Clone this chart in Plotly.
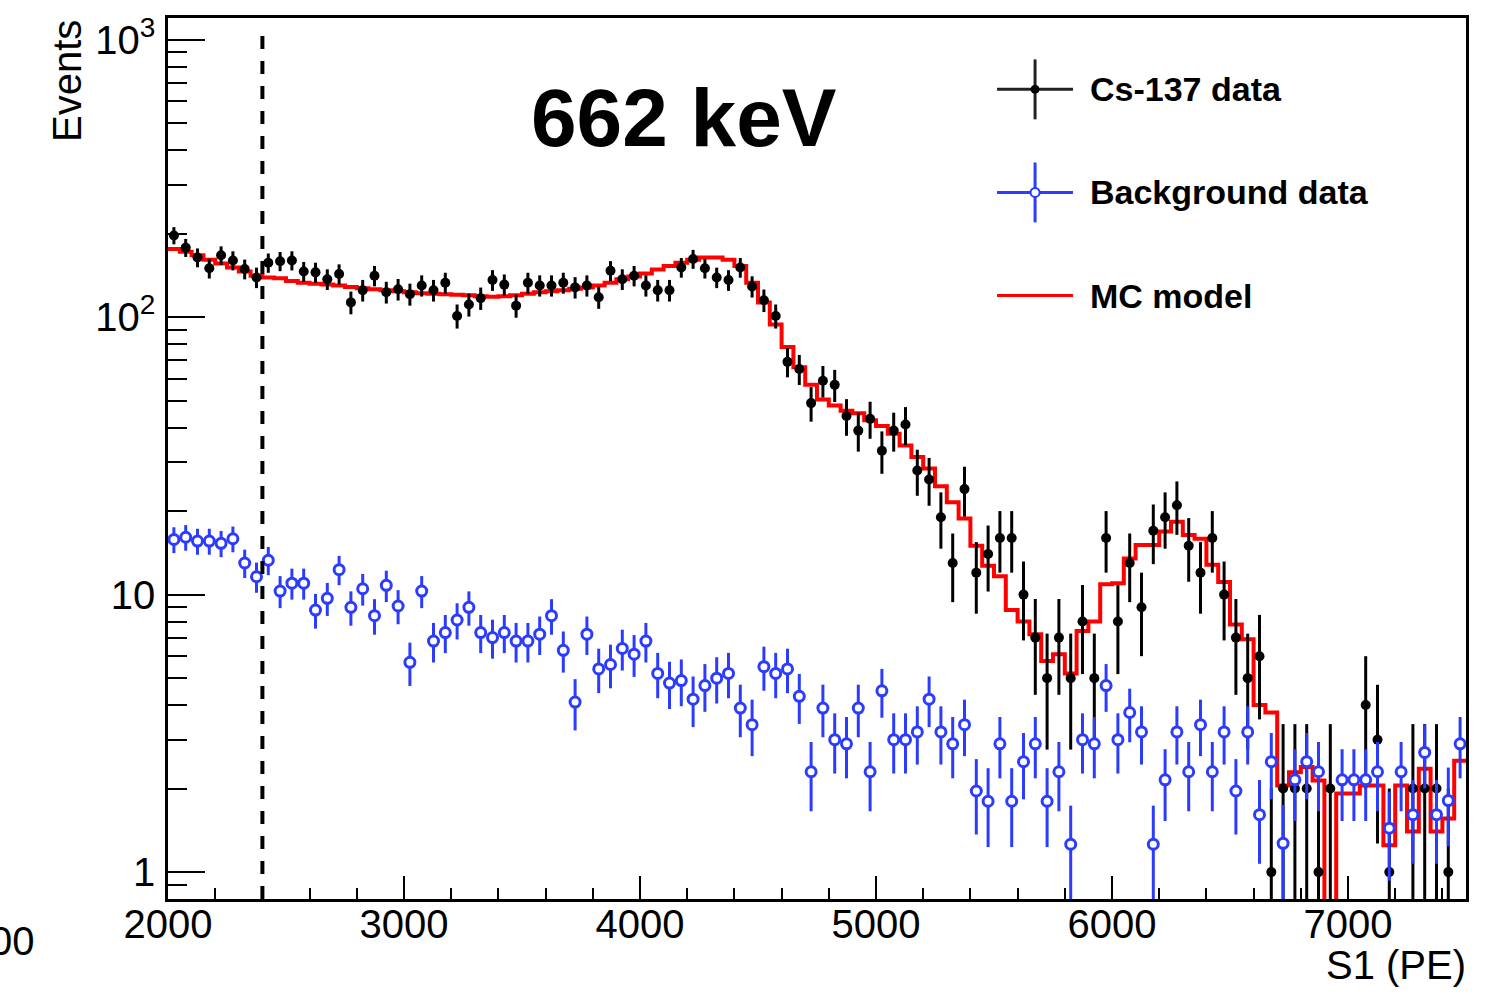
import numpy as np
import plotly.graph_objects as go

# ---------------- data ----------------
bin_start = 2000
bin_width = 50
n_bins = 110

cs137_counts = [197, 178, 164, 150, 167, 160, 149, 139, 157, 159,
                160, 146, 145, 137, 143, 113, 125, 141, 123, 126,
                121, 130, 125, 133, 101, 111, 117, 136, 131, 110,
                133, 130, 130, 133, 128, 130, 118, 147, 137, 141,
                130, 125, 125, 151, 162, 150, 139, 136, 151, 129,
                115, 101, 69, 65, 49, 59, 57, 44, 39, 43,
                33, 39, 41, 28, 26, 19, 13, 24, 12, 14,
                16, 16, 10, 7, 5, 7, 5, 8, 5, 16,
                8, 13, 9, 17, 19, 21, 15, 12, 16, 10,
                7, 5, 6, 1, 2, 2, 2, 1, 2, 0,
                0, 4, 3, 1, 0, 2, 2, 2, 1, 0]

background = [15.8, 16.1, 15.6, 15.6, 15.3, 15.9, 13.0, 11.6, 13.3, 10.3,
              11.0, 11.0, 8.8, 9.7, 12.3, 9.0, 10.5, 8.4, 10.8, 9.1,
              5.7, 10.3, 6.8, 7.3, 8.1, 9.0, 7.3, 7.0, 7.3, 6.8,
              6.8, 7.2, 8.4, 6.3, 4.1, 7.2, 5.4, 5.6, 6.4, 6.1,
              6.8, 5.2, 4.8, 4.9, 4.2, 4.7, 5.0, 5.2, 3.9, 3.4,
              5.5, 5.2, 5.4, 4.3, 2.3, 3.9, 3.0, 2.9, 3.9, 2.3,
              4.5, 3.0, 3.0, 3.2, 4.2, 3.2, 2.9, 3.4, 1.96, 1.8,
              2.9, 1.8, 2.5, 2.9, 1.8, 2.3, 1.26, 3.0, 2.9, 4.7,
              3.0, 3.76, 3.2, 1.26, 2.15, 3.2, 2.3, 3.4, 2.3, 3.2,
              1.96, 3.2, 1.61, 2.5, 1.27, 2.15, 2.5, 2.3, None, 2.15,
              2.15, 2.15, 2.3, 1.44, 2.3, 1.61, 2.7, 1.61, 1.81, 2.9]
bkg_scale = 0.18  # per-event weight of the background sample

mc_model = [176, 172, 167, 161, 156, 151, 146, 141, 139, 138,
            135, 133, 132, 131, 130, 128.5, 127, 126, 125, 124,
            123, 122, 121.5, 121, 120.5, 120, 119, 118.5, 119, 120,
            121.5, 123, 124, 125, 126.5, 128, 130, 133, 137, 140,
            143.6, 148.5, 153, 157, 161, 164, 164, 161, 153, 133,
            113, 94, 78, 66, 57, 50.5, 48, 46, 45, 42.5,
            40.5, 38, 34.5, 31.3, 28.5, 24.6, 21.5, 18.8, 15.0, 12.7,
            11.65, 8.8, 8.0, 7.2, 5.76, 6.1, 5.2, 7.4, 8.0, 10.9,
            11.0, 13.5, 15.1, 15.1, 16.9, 18.3, 16.4, 15.9, 12.8, 11.1,
            7.8, 6.9, 4.0, 3.76, 2.05, 2.29, 2.39, 2.14, 0, 1.92,
            1.92, 2.05, 2.05, 1.25, 2.05, 1.4, 2.36, 1.4, 1.56, 2.52]

x_tick_vals = [2000, 3000, 4000, 5000, 6000, 7000]
x_tick_text = ["2000", "3000", "4000", "5000", "6000", "7000"]
y_tick_vals = [1, 10, 100, 1000]
y_tick_text = ["1", "10", "10<sup>2</sup>", "10<sup>3</sup>"]
threshold = 2400

# ---------------- derived ----------------
centers = bin_start + bin_width * (np.arange(n_bins) + 0.5)
edges = bin_start + bin_width * np.arange(n_bins + 1)

cs = np.array(cs137_counts, dtype=float)
cs_y = np.where(cs > 0, cs, np.nan)
cs_err = np.sqrt(cs)

bk = np.array([np.nan if v is None else v for v in background], dtype=float)
bk_err = np.sqrt(bk * bkg_scale)

mc = np.array(mc_model, dtype=float)
mc_y = np.where(mc > 0, mc, 1e-3)
mc_step = np.append(mc_y, mc_y[-1])

FONT = "Liberation Sans, Arial, Helvetica, sans-serif"
BLUE = "#2b3cff"

fig = go.Figure()

fig.add_trace(go.Scatter(
    x=edges, y=mc_step, mode="lines", line=dict(color="#ff0000", width=4, shape="hv"),
    name="MC model", showlegend=False, hoverinfo="skip"))

fig.add_trace(go.Scatter(
    x=centers, y=cs_y, mode="markers", name="Cs-137 data",
    marker=dict(color="black", size=10, symbol="circle"),
    error_y=dict(type="data", array=cs_err, color="black", thickness=3, width=0),
    showlegend=False))

fig.add_trace(go.Scatter(
    x=centers, y=bk, mode="markers", name="Background data",
    marker=dict(color="white", size=10, symbol="circle",
                line=dict(color=BLUE, width=3)),
    error_y=dict(type="data", array=bk_err, color=BLUE, thickness=3, width=0),
    showlegend=False))

# threshold dashed line
fig.add_shape(type="line", xref="x", yref="paper", x0=threshold, x1=threshold,
              y0=0, y1=0.9887, line=dict(color="black", width=4, dash="13px,12px"))

# ---------------- legend (ROOT style) ----------------
lx0, lx1, lxc, ltx = 0.6387, 0.6972, 0.6680, 0.7088
rows = [0.9190, 0.8020, 0.6850]
# Cs-137
fig.add_shape(type="line", xref="paper", yref="paper", x0=lx0, x1=lx1, y0=rows[0], y1=rows[0],
              line=dict(color="#222222", width=3))
fig.add_shape(type="line", xref="paper", yref="paper", x0=lxc, x1=lxc, y0=rows[0] - 0.034, y1=rows[0] + 0.034,
              line=dict(color="#222222", width=3))
fig.add_shape(type="circle", xref="paper", yref="paper", xsizemode="pixel", ysizemode="pixel",
              xanchor=lxc, yanchor=rows[0], x0=-4, x1=4, y0=-4, y1=4,
              fillcolor="black", line=dict(color="black", width=1))
# Background
fig.add_shape(type="line", xref="paper", yref="paper", x0=lx0, x1=lx1, y0=rows[1], y1=rows[1],
              line=dict(color=BLUE, width=3))
fig.add_shape(type="line", xref="paper", yref="paper", x0=lxc, x1=lxc, y0=rows[1] - 0.034, y1=rows[1] + 0.034,
              line=dict(color=BLUE, width=3))
fig.add_shape(type="circle", xref="paper", yref="paper", xsizemode="pixel", ysizemode="pixel",
              xanchor=lxc, yanchor=rows[1], x0=-4.5, x1=4.5, y0=-4.5, y1=4.5,
              fillcolor="white", line=dict(color=BLUE, width=2))
# MC
fig.add_shape(type="line", xref="paper", yref="paper", x0=lx0, x1=lx1, y0=rows[2], y1=rows[2],
              line=dict(color="#ff0000", width=3))

for label, ry in zip(["Cs-137 data", "Background data", "MC model"], rows):
    fig.add_annotation(text="<b>" + label + "</b>", xref="paper", yref="paper",
                       x=ltx, y=ry, xanchor="left", yanchor="middle", showarrow=False,
                       font=dict(family=FONT, size=34, color="black"))

# texts
fig.add_annotation(text="<b>662 keV</b>", xref="paper", yref="paper", x=0.3975, y=0.8870,
                   xanchor="center", yanchor="middle", showarrow=False,
                   font=dict(family=FONT, size=82, color="black"))
fig.add_annotation(text="Events", xref="paper", yref="paper", x=-0.0778, y=1.0,
                   xanchor="center", yanchor="top", textangle=-90, showarrow=False,
                   font=dict(family=FONT, size=40, color="black"))
fig.add_annotation(text="S1 (PE)", xref="paper", yref="paper", x=1.0015, y=-0.0745,
                   xanchor="right", yanchor="middle", showarrow=False,
                   font=dict(family=FONT, size=40, color="black"))
fig.add_annotation(text="00", xref="paper", yref="paper", x=-0.1009, y=-0.0475,
                   xanchor="right", yanchor="middle", showarrow=False,
                   font=dict(family=FONT, size=40, color="black"))

fig.update_layout(
    width=1496, height=997,
    margin=dict(l=168, r=30, t=15, b=98),
    paper_bgcolor="white", plot_bgcolor="white",
    showlegend=False,
    font=dict(family=FONT, color="black"),
)
fig.update_xaxes(
    range=[2000, 7500], tickmode="array", tickvals=x_tick_vals, ticktext=x_tick_text,
    ticks="inside", ticklen=23, tickwidth=2, tickcolor="black",
    ticklabelstandoff=-12,
    minor=dict(ticks="inside", ticklen=11, tickwidth=2, tickcolor="black", dtick=200, tick0=2000),
    showline=True, linewidth=2.5, linecolor="black", mirror=True,
    showgrid=False, zeroline=False,
    tickfont=dict(family=FONT, size=40, color="black"),
)
fig.update_yaxes(
    type="log", range=[np.log10(0.8), 3.078], tickmode="array",
    tickvals=y_tick_vals, ticktext=y_tick_text,
    ticks="inside", ticklen=37, tickwidth=2, tickcolor="black",
    ticklabelstandoff=2,
    minor=dict(ticks="inside", ticklen=19, tickwidth=2, tickcolor="black", dtick="D1"),
    showline=True, linewidth=2.5, linecolor="black", mirror=True,
    showgrid=False, zeroline=False,
    tickfont=dict(family=FONT, size=40, color="black"),
)

fig.write_html("out.html")
